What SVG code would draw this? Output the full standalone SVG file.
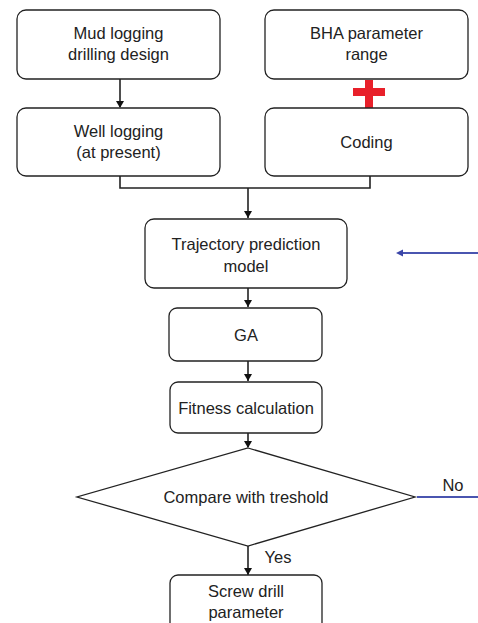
<svg xmlns="http://www.w3.org/2000/svg" width="478" height="623" viewBox="0 0 478 623">
<defs>
<marker id="ah" markerWidth="8" markerHeight="8" refX="4" refY="6" orient="auto" markerUnits="userSpaceOnUse" viewBox="0 0 8 8">
<path d="M0,0 L8,0 L4,7 Z" fill="#111" transform="rotate(-90 4 4)"/>
</marker>
<marker id="ab" markerWidth="8" markerHeight="8" refX="1" refY="4" orient="auto" markerUnits="userSpaceOnUse" viewBox="0 0 8 8">
<path d="M0,4 L7,1 L7,7 Z" fill="#3a45a8"/>
</marker>
<style>
.box{fill:#fff;stroke:#222;stroke-width:1.3}
.t{font-family:"Liberation Sans",Arial,sans-serif;font-size:16.5px;fill:#222;text-anchor:middle}
.c{fill:none;stroke:#222;stroke-width:1.6}
.blue{fill:none;stroke:#4a55b0;stroke-width:2}
</style>
</defs>
<rect width="478" height="623" fill="#fff"/>
<g id="connectors">
<line class="c" x1="120" y1="79" x2="120" y2="107"/>
<path d="M116,101 L124,101 L120,108 Z" fill="#111"/>
<polyline class="c" points="120,176 120,188 370,188 370,176"/>
<line class="c" x1="248" y1="188" x2="248" y2="218"/>
<path d="M244,211 L252,211 L248,218 Z" fill="#111"/>
<line class="c" x1="248" y1="288" x2="248" y2="307"/>
<path d="M244,300 L252,300 L248,307 Z" fill="#111"/>
<line class="c" x1="248" y1="361" x2="248" y2="381"/>
<path d="M244,374 L252,374 L248,381 Z" fill="#111"/>
<line class="c" x1="248" y1="433" x2="248" y2="447"/>
<path d="M244,441 L252,441 L248,448 Z" fill="#111"/>
<line class="c" x1="248" y1="546" x2="248" y2="575"/>
<path d="M244,568 L252,568 L248,575 Z" fill="#111"/>
<line class="blue" x1="478" y1="253" x2="400" y2="253"/>
<path d="M396,253 L403,249.5 L403,256.5 Z" fill="#3a45a8"/>
<line class="blue" x1="417" y1="497" x2="478" y2="497"/>
<text class="t" x="453" y="491">No</text>
<text class="t" x="278" y="563">Yes</text>
</g>
<g id="plus">
<rect x="365" y="80" width="8" height="28" fill="#e8202a"/>
<rect x="353" y="88" width="32" height="8" fill="#e8202a"/>
</g>
<g id="mud">
<rect class="box" x="17" y="10" width="203" height="69" rx="9"/>
<text class="t" x="118.5" y="39">Mud logging</text>
<text class="t" x="118.5" y="60">drilling design</text>
</g>
<g id="bha">
<rect class="box" x="265" y="10" width="203" height="69" rx="9"/>
<text class="t" x="366.5" y="39">BHA parameter</text>
<text class="t" x="366.5" y="60">range</text>
</g>
<g id="well">
<rect class="box" x="17" y="108" width="203" height="68" rx="9"/>
<text class="t" x="118.5" y="137">Well logging</text>
<text class="t" x="118.5" y="158">(at present)</text>
</g>
<g id="coding">
<rect class="box" x="265" y="108" width="203" height="68" rx="9"/>
<text class="t" x="366.5" y="148">Coding</text>
</g>
<g id="traj">
<rect class="box" x="145" y="219" width="202" height="69" rx="9"/>
<text class="t" x="246" y="250">Trajectory prediction</text>
<text class="t" x="246" y="272">model</text>
</g>
<g id="ga">
<rect class="box" x="169" y="308" width="153" height="53" rx="8"/>
<text class="t" x="246" y="341">GA</text>
</g>
<g id="fitness">
<rect class="box" x="170" y="382" width="152" height="51" rx="8"/>
<text class="t" x="246" y="414">Fitness calculation</text>
</g>
<g id="compare">
<polygon class="box" points="248,448 415,497 248,546 77,497"/>
<text class="t" x="246" y="503">Compare with treshold</text>
</g>
<g id="screw">
<rect class="box" x="170" y="575" width="152" height="60" rx="8"/>
<text class="t" x="246" y="597">Screw drill</text>
<text class="t" x="246" y="618">parameter</text>
</g>
</svg>
